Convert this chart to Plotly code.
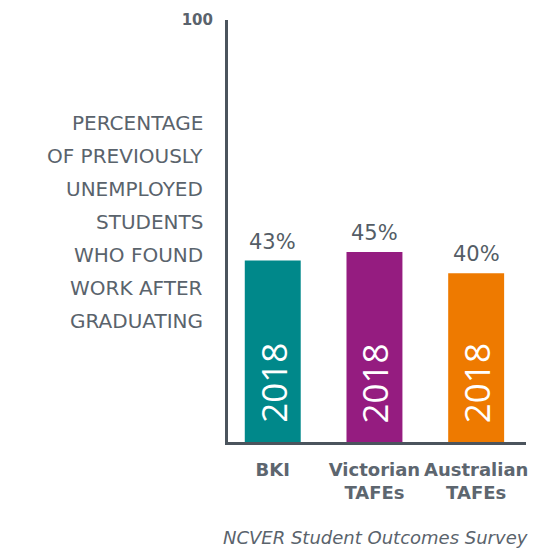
import plotly.graph_objects as go

categories = ["BKI", "Victorian<br>TAFEs", "Australian<br>TAFEs"]
values = [43, 45, 40]
colors = ["#00888a", "#951c80", "#ee7a00"]
year_labels = ["2018", "2018", "2018"]
value_labels = ["43%", "45%", "40%"]
y_title_lines = ["PERCENTAGE", "OF PREVIOUSLY", "UNEMPLOYED", "STUDENTS",
                 "WHO FOUND", "WORK AFTER", "GRADUATING"]
source = "NCVER Student Outcomes Survey"

FONT = "DejaVu Sans"
GRAY = "#5a636c"
AXIS = "#4b545d"

fig = go.Figure()
fig.add_trace(go.Bar(
    x=list(range(len(categories))), y=values,
    marker=dict(color=colors, line=dict(width=0)),
    width=0.55, hoverinfo="skip",
))

ann = []
for i, (v, vl, yl) in enumerate(zip(values, value_labels, year_labels)):
    ann.append(dict(x=i, y=v, xref="x", yref="y", text=vl, showarrow=False,
                    yanchor="bottom", yshift=5,
                    font=dict(family=FONT, size=21, color="#545d66")))
    ann.append(dict(x=i, y=0, xref="x", yref="y", text=yl, showarrow=False,
                    yanchor="bottom", yshift=17, textangle=-90,
                    font=dict(family="Open Sans", size=35, color="white")))

n = len(y_title_lines)
for k, line in enumerate(y_title_lines):
    ann.append(dict(x=0, y=0.521, xref="paper", yref="paper", text=line,
                    showarrow=False, xanchor="right", yanchor="middle",
                    xshift=-23, yshift=(n - 1) / 2 * 33 - k * 33,
                    font=dict(family=FONT, size=20, color=GRAY)))

ann.append(dict(x=1, y=0, xref="paper", yref="paper", text="<i>" + source + "</i>",
                showarrow=False, xanchor="right", yanchor="middle",
                xshift=4, yshift=-95,
                font=dict(family=FONT, size=18, color=GRAY)))

fig.update_layout(
    width=544, height=556,
    margin=dict(l=228, r=18, t=20, b=114),
    paper_bgcolor="white", plot_bgcolor="white",
    showlegend=False,
    annotations=ann,
    xaxis=dict(
        range=[-0.44, 2.49],
        tickvals=list(range(len(categories))), ticktext=categories,
        showline=True, linecolor=AXIS, linewidth=3,
        showgrid=False, zeroline=False, ticks="", ticklabelstandoff=9,
        tickfont=dict(family=FONT, size=18, color="#5d666f", weight="bold"),
    ),
    yaxis=dict(
        range=[0, 100], tickvals=[100], ticktext=["100"],
        showline=True, linecolor=AXIS, linewidth=3,
        showgrid=False, zeroline=False,
        ticks="inside", ticklen=17, tickwidth=3, tickcolor=AXIS,
        ticklabelstandoff=9,
        tickfont=dict(family=FONT, size=15, color=GRAY, weight="bold"),
    ),
)

fig.write_html("out.html")
